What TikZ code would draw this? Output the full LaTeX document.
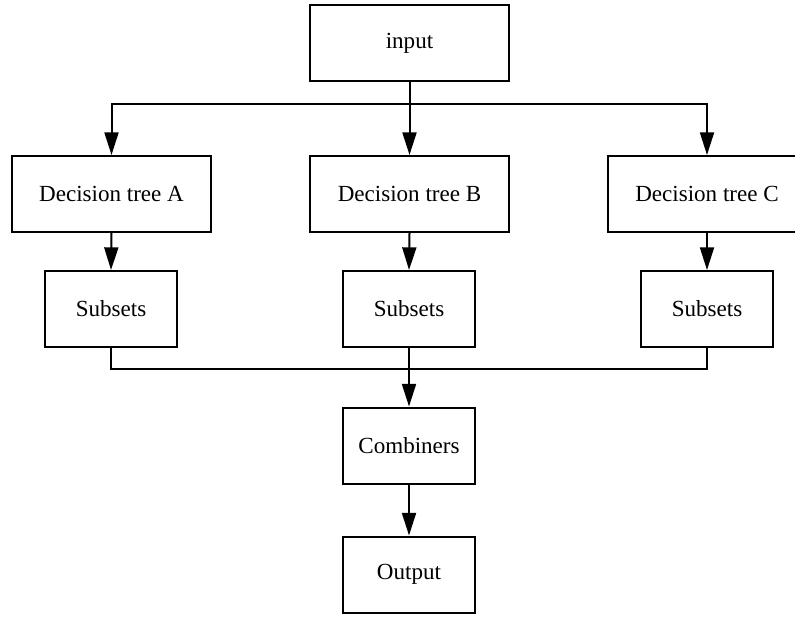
\documentclass[tikz,border=0pt]{standalone}
\usepackage{fontspec}
\setmainfont{Liberation Serif}
\usetikzlibrary{arrows.meta}
\begin{document}
\begin{tikzpicture}[x=0.75pt,y=-0.75pt,
  box/.style={draw=black,line width=1.5pt,fill=white,inner sep=0pt,
    font=\fontsize{17.3}{20}\selectfont,text=black},
  wide/.style={box,minimum width=149.25pt,minimum height=57pt},
  narrow/.style={box,minimum width=99pt,minimum height=57pt},
  line/.style={draw=black,line width=1.5pt},
  arr/.style={line,-{Triangle[length=17pt,width=10.5pt]}}]
\useasboundingbox (0,0) rectangle (795,617);
\node[wide] (input) at (409.5,43) {input};
\node[wide] (A) at (111.5,194) {Decision tree A};
\node[wide] (B) at (409.5,194) {Decision tree B};
\node[wide] (C) at (707,194) {Decision tree C};
\node[narrow] (SA) at (111,309) {Subsets};
\node[narrow] (SB) at (409,309) {Subsets};
\node[narrow] (SC) at (707,309) {Subsets};
\node[narrow] (comb) at (409,445.5) {Combiners};
\node[narrow] (out) at (409,574.5) {Output};
\coordinate (j1) at (409.5,104);
\coordinate (j2) at (409,369);
\draw[line] (input.south) -- (j1);
\draw[arr] (j1) -| (A.north);
\draw[arr] (j1) -- (B.north);
\draw[arr] (j1) -| (C.north);
\draw[arr] (A.south) -- (SA.north);
\draw[arr] (B.south) -- (SB.north);
\draw[arr] (C.south) -- (SC.north);
\draw[line] (SA.south) |- (j2);
\draw[line] (SC.south) |- (j2);
\draw[arr] (SB.south) -- (comb.north);
\draw[arr] (comb.south) -- (out.north);
\end{tikzpicture}
\end{document}
